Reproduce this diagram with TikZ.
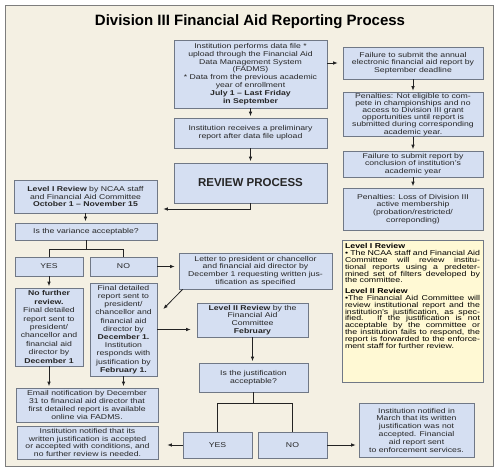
\documentclass[tikz,border=0pt]{standalone}
\usepackage{fontspec}
\setmainfont[FakeStretch=1.24]{Liberation Sans}
\newfontfamily\headfont{Liberation Sans}
\usepackage{xcolor}
\usetikzlibrary{
  arrows.meta,
  positioning,
  calc
}
\definecolor{pagecream}{RGB}{244,240,227}
\definecolor{framegray}{RGB}{125,125,125}
\definecolor{boxblue}{RGB}{213,223,242}
\definecolor{boxedge}{RGB}{112,120,134}
\definecolor{noteyellow}{RGB}{255,249,212}
\definecolor{flowline}{RGB}{35,35,35}
\newcommand{\jline}[1]{\makebox[\linewidth][s]{#1}}
\tikzset{
  box/.style={draw=boxedge, fill=boxblue, line width=0.6pt, inner sep=1pt,
    align=center, text=black!85, font=\fontsize{7}{7.8}\selectfont},
  notebox/.style={draw=boxedge, fill=noteyellow, line width=0.6pt, inner sep=3pt,
    text=black, font=\fontsize{7.1}{6.9}\selectfont},
  flow/.style={draw=flowline, line width=0.8pt},
  arr/.style={flow, -{Latex[length=4.5pt,width=3.6pt]}, shorten >=1.5pt}
}

\begin{document}
\begin{tikzpicture}[x=1pt, y=-1pt]

  \useasboundingbox (0,0) rectangle (500,471);
  % Frame and title
  \draw[draw=framegray, fill=pagecream, line width=0.8pt] (5,5) rectangle (493,466);
  \node[font=\headfont\bfseries\fontsize{15}{18}\selectfont] (title) at (250,22)
    {Division III Financial Aid Reporting Process};

  % Upload column
  \node[box, minimum width=153pt, minimum height=68pt] (upload) at (250.5,74)
    {Institution performs data file *\\upload through the Financial Aid\\Data Management System\\(FADMS)\\* Data from the previous academic\\year of enrollment\\\textbf{July 1 – Last Friday}\\\textbf{in September}};
  \node[box, minimum width=153pt, minimum height=30pt] (prelim) at (250.5,133)
    {Institution receives a preliminary\\report after data file upload};
  \node[box, minimum width=153pt, minimum height=40pt, font=\headfont\bfseries\fontsize{11.5}{14}\selectfont] (review) at (250.5,183)
    {REVIEW PROCESS};

  % Failure column
  \node[box, minimum width=140pt, minimum height=32pt] (fail1) at (413,63)
    {Failure to submit the annual\\electronic financial aid report by\\September deadline};
  \node[box, minimum width=140pt, minimum height=43pt, font=\fontsize{7}{7.1}\selectfont] (pen1) at (413,114.5)
    {Penalties: Not eligible to com-\\pete in championships and no\\access to Division III grant\\opportunities until report is\\submitted during corresponding\\academic year.};
  \node[box, minimum width=140pt, minimum height=26pt] (fail2) at (413,164)
    {Failure to submit report by\\conclusion of institution's\\academic year};
  \node[box, minimum width=140pt, minimum height=42pt] (pen2) at (413,209)
    {Penalties: Loss of Division III\\active membership\\(probation/restricted/\\correponding)};

  % Explanation
  \node[notebox, anchor=north] (note) at (412.5,240) {\parbox[c][136pt][t]{135pt}{%
    \textbf{Level I Review}\\
    \jline{• The NCAA staff and Financial Aid}\\
    \jline{Committee will review institu-}\\
    \jline{tional reports using a predeter-}\\
    \jline{mined set of filters developed by}\\
    the committee.\\[3.5pt]
    \textbf{Level II Review}\\
    \jline{•The Financial Aid Committee will}\\
    \jline{review institutional report and the}\\
    \jline{institution's justification, as spec-}\\
    \jline{ified. If the justification is not}\\
    \jline{acceptable by the committee or}\\
    \jline{the institution fails to respond, the}\\
    \jline{report is forwarded to the enforce-}\\
    ment staff for further review.}};

  % Level I
  \node[box, minimum width=143pt, minimum height=33pt] (lev1) at (85.5,196.5)
    {\textbf{Level I Review} by NCAA staff\\and Financial Aid Committee\\\textbf{October 1 – November 15}};
  \node[box, minimum width=142pt, minimum height=17pt] (var) at (86,231.5) {Is the variance acceptable?};
  \node[box, minimum width=68pt, minimum height=19pt] (yes1) at (49,266.5) {YES};
  \node[box, minimum width=67pt, minimum height=19pt] (no1) at (123.5,266.5) {NO};
  \node[box, minimum width=68pt, minimum height=78pt, font=\fontsize{7}{8.4}\selectfont] (nofurther) at (49,327)
    {\textbf{No further}\\\textbf{review.}\\Final detailed\\report sent to\\president/\\chancellor and\\financial aid\\director by\\\textbf{December 1}};
  \node[box, minimum width=67pt, minimum height=93pt, font=\fontsize{7}{8.2}\selectfont] (finaldet) at (123.5,329.5)
    {Final detailed\\report sent to\\president/\\chancellor and\\financial aid\\director by\\\textbf{December 1.}\\Institution\\responds with\\justification by\\\textbf{February 1.}};
  \node[box, minimum width=142pt, minimum height=34pt] (email) at (87,405)
    {Email notification by December\\31 to financial aid director that\\first detailed report is available\\online via FADMS.};
  \node[box, minimum width=141pt, minimum height=33pt] (accepted) at (87.5,442.5)
    {Institution notified that its\\written justification is accepted\\or accepted with conditions, and\\no further review is needed.};

  % Level II
  \node[box, minimum width=153pt, minimum height=36pt] (letter) at (255.5,271)
    {Letter to president or chancellor\\and financial aid director by\\December 1 requesting written jus-\\tification as specified};
  \node[box, minimum width=111pt, minimum height=34pt] (lev2) at (252.5,320)
    {\textbf{Level II Review} by the\\Financial Aid\\Committee\\\textbf{February}};
  \node[box, minimum width=109pt, minimum height=29pt] (just) at (253.5,377.5)
    {Is the justification\\acceptable?};
  \node[box, minimum width=69pt, minimum height=26pt] (yes2) at (217.5,445) {YES};
  \node[box, minimum width=69pt, minimum height=26pt] (no2) at (292.5,445) {NO};
  \node[box, minimum width=115pt, minimum height=54pt] (march) at (416.5,430)
    {Institution notified in\\March that its written\\justification was not\\accepted. Financial\\aid report sent\\to enforcement services.};

  % Connectors
  \draw[arr] (upload) -- (prelim);
  \draw[arr] (prelim) -- (review);
  \draw[arr, shorten >=5pt] (fail1.west -| upload.east) -- (fail1.west);
  \draw[arr] (fail1) -- (pen1);
  \draw[arr] (pen1) -- (fail2);
  \draw[arr] (fail2) -- (pen2);
  \draw[arr, shorten >=6pt] (review.south) |- ($(lev1.east)+(0,12.5)$);
  \draw[arr] (lev1.south) -- (lev1.south |- var.north);
  \draw[flow] (var.south) -- ++(0,9) coordinate (vsplit);
  \draw[flow] (yes1.north) |- (vsplit) -| (no1.north);
  \draw[arr, shorten >=4pt] (no1.east) -- (no1.east -| letter.west);
  \draw[arr, shorten >=0pt] ($(letter.south west)+(4,0)$) -- ($(finaldet.east)+(6,-20.5)$);
  \draw[arr, shorten >=6pt] (finaldet.east) -- (finaldet.east -| lev2.west);
  \draw[arr] (yes1) -- (nofurther);
  \draw[arr] (nofurther.south) -- (nofurther.south |- email.north);
  \draw[arr] (finaldet.south) -- (finaldet.south |- email.north);
  \draw[arr] (lev2.south) -- (lev2.south |- just.north);
  \draw[flow] (just.south) -- ++(0,11) coordinate (jsplit);
  \draw[flow] (yes2.north) |- (jsplit) -| (no2.north);
  \draw[arr, shorten >=9pt] (yes2.west) -- (yes2.west -| accepted.east);
  \draw[arr, shorten >=3pt] (no2.east) -- (no2.east -| march.west);
\end{tikzpicture}
\end{document}
